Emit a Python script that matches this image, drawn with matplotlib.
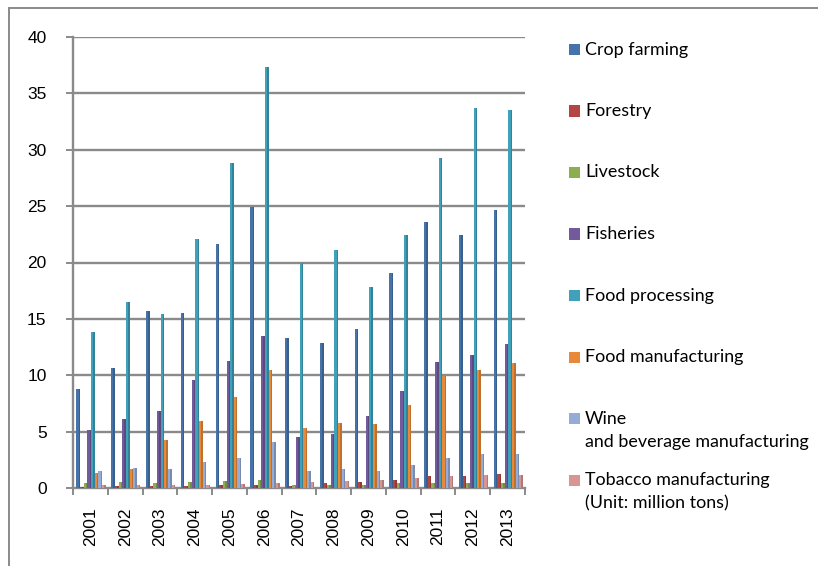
import matplotlib
matplotlib.use('Agg')
import matplotlib.pyplot as plt
from matplotlib.patches import Rectangle
from matplotlib.lines import Line2D
import numpy as np

years = ['2001', '2002', '2003', '2004', '2005', '2006', '2007',
         '2008', '2009', '2010', '2011', '2012', '2013']

series_names = ['Crop farming', 'Forestry', 'Livestock', 'Fisheries',
                'Food processing', 'Food manufacturing',
                'Wine\nand beverage manufacturing',
                'Tobacco manufacturing\n(Unit: million tons)']

crop_farming = [8.8, 10.6, 15.7, 15.5, 21.6, 24.9, 13.3, 12.9, 14.1, 19.1, 23.6, 22.4, 24.7]
forestry = [0.1, 0.2, 0.15, 0.2, 0.25, 0.3, 0.2, 0.4, 0.5, 0.7, 1.05, 1.1, 1.2]
livestock = [0.4, 0.5, 0.4, 0.5, 0.6, 0.7, 0.3, 0.3, 0.3, 0.4, 0.4, 0.45, 0.4]
fisheries = [5.1, 6.1, 6.85, 9.6, 11.3, 13.5, 4.55, 4.75, 6.4, 8.6, 11.2, 11.8, 12.8]
food_processing = [13.8, 16.5, 15.4, 22.1, 28.8, 37.3, 20.0, 21.1, 17.8, 22.4, 29.3, 33.7, 33.5]
food_manufacturing = [1.35, 1.65, 4.3, 5.9, 8.1, 10.45, 5.3, 5.8, 5.7, 7.4, 9.9, 10.45, 11.05]
wine_beverage = [1.5, 1.75, 1.65, 2.3, 2.7, 4.05, 1.55, 1.65, 1.5, 2.0, 2.7, 3.05, 3.05]
tobacco = [0.25, 0.3, 0.3, 0.3, 0.35, 0.4, 0.5, 0.6, 0.75, 0.9, 1.05, 1.15, 1.15]

colors = ['#4674AA', '#B34643', '#8DAE4F', '#735A9C',
          '#3FA1BA', '#E8893A', '#94ACD6', '#D79694']

all_series = [crop_farming, forestry, livestock, fisheries,
              food_processing, food_manufacturing, wine_beverage, tobacco]

W, H = 818, 566
fig = plt.figure(figsize=(W / 100, H / 100), dpi=100)
ax = fig.add_axes([73 / W, 1 - 488 / H, (525 - 73) / W, (488 - 37) / H])

x = np.arange(len(years))
n = len(all_series)
bw = 0.105
grid_col = '#8a8a8a'

for gl in range(5, 45, 5):
    ax.axhline(gl, color=grid_col, lw=1.7, zorder=1)

for i, (vals, col) in enumerate(zip(all_series, colors)):
    off = (i - (n - 1) / 2) * bw + 0.02
    ax.bar(x + off, vals, width=bw, color=col, edgecolor='none', zorder=3)
    # darker right-hand strip gives the rounded column look
    ax.bar(x + off + bw * 0.3, vals, width=bw * 0.4, color='black',
           alpha=0.18, edgecolor='none', zorder=4)

ax.set_xlim(-0.5, len(years) - 0.5)
ax.set_ylim(0, 40)
ax.set_yticks(range(0, 45, 5))

for s in ['top', 'right']:
    ax.spines[s].set_visible(False)
for s in ['left', 'bottom']:
    ax.spines[s].set_color(grid_col)
    ax.spines[s].set_linewidth(1.7)
    ax.spines[s].set_zorder(2)

# category boundaries carry the tick marks, labels sit at the centres
ax.set_xticks(np.arange(-0.5, len(years), 1.0))
ax.set_xticklabels([])
ax.set_xticks(x, minor=True)
ax.set_xticklabels(years, minor=True, rotation=90, fontsize=12.5,
                   family='Liberation Sans')
ax.tick_params(axis='x', which='major', length=5, color=grid_col, width=1.4)
ax.tick_params(axis='x', which='minor', length=0, pad=14)
ax.tick_params(axis='y', length=5, color=grid_col, width=1.4, pad=14,
               labelsize=12.5)
for t in ax.get_yticklabels():
    t.set_family('Liberation Sans')

# outer chart border
fig.add_artist(Line2D([9 / W, 9 / W], [0, 1 - 8 / H], color=grid_col, lw=1.4))
fig.add_artist(Line2D([9 / W, 1], [1 - 8 / H, 1 - 8 / H], color=grid_col, lw=1.4))

# legend
ly0, lstep, line_gap = 49.5, 61.5, 23.5
for i, (name, col) in enumerate(zip(series_names, colors)):
    yc = ly0 + i * lstep
    fig.add_artist(Rectangle((569 / W, 1 - (yc + 5.5) / H), 11 / W, 11 / H,
                             transform=fig.transFigure, facecolor=col,
                             edgecolor='none'))
    for j, line in enumerate(name.split('\n')):
        fig.text(585 / W, 1 - (yc + j * line_gap) / H, line, va='center',
                 ha='left', fontsize=12.9, family='Lato', color='black')

fig.savefig('out.png', dpi=100)
